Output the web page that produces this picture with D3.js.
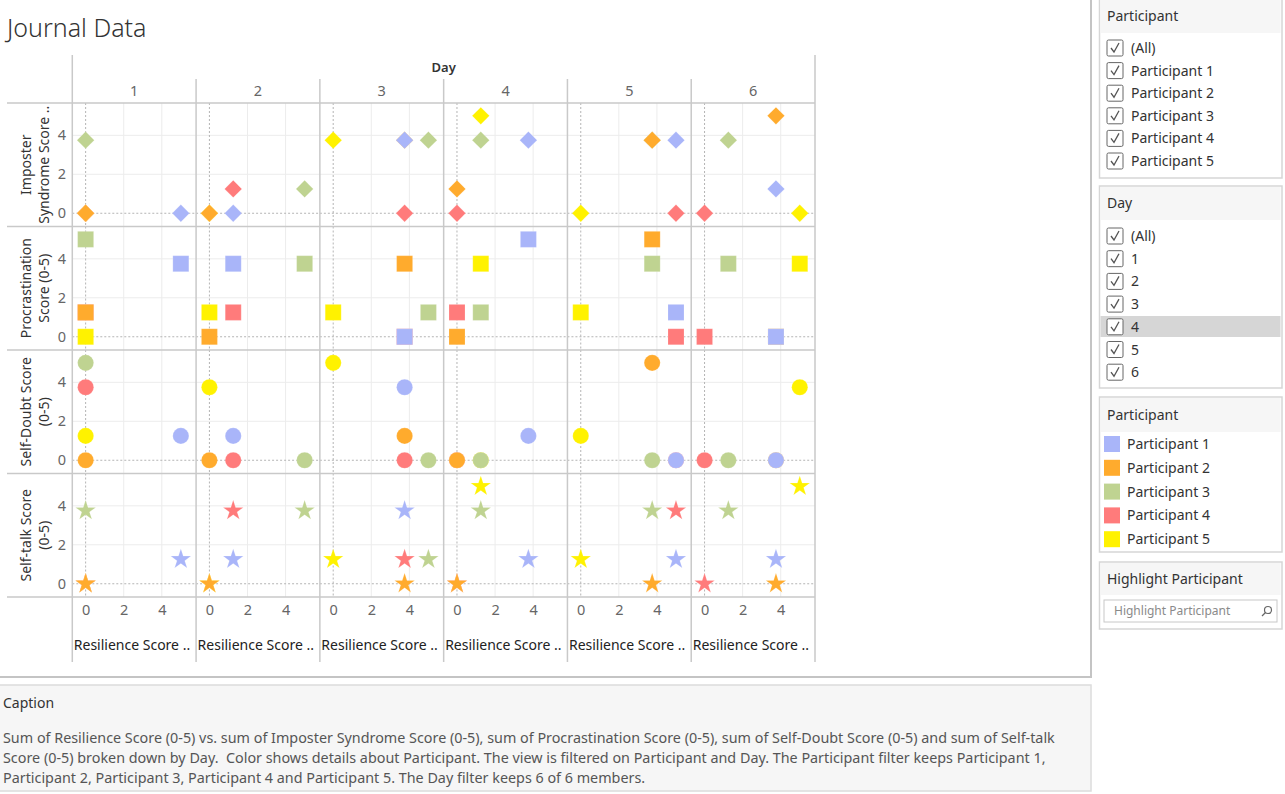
<!DOCTYPE html>
<html>
<head>
<meta charset="utf-8">
<script src="https://cdn.jsdelivr.net/npm/d3@7"></script>
<style>
  body { margin: 0; background: #fff; font-family: "Noto Sans", Lato, sans-serif; }
  svg text { font-family: "Noto Sans", Lato, sans-serif; }
</style>
</head>
<body>
<svg id="chart" width="1285" height="794"></svg>
<script>
// ---- data (values per participant, one per day) ----
const days = [1, 2, 3, 4, 5, 6];
const participants = ["Participant 1", "Participant 2", "Participant 3", "Participant 4", "Participant 5"];
const colors = ["#a9b5f9", "#ffab2d", "#bfd391", "#ff7b7b", "#fff200"];
const measures = ["Imposter Syndrome Score (0-5)", "Procrastination Score (0-5)", "Self-Doubt Score (0-5)", "Self-talk Score (0-5)"];
const rowTitles = [["Imposter", "Syndrome Score .."], ["Procrastination", "Score (0-5)"], ["Self-Doubt Score", "(0-5)"], ["Self-talk Score", "(0-5)"]];
const shapes = [d3.symbolSquare, d3.symbolSquare, d3.symbolCircle, d3.symbolStar];
const shapeSizes = [150, 256, 205, 128];
const shapeRotate = [45, 0, 0, 0];
const xTicks = [0, 2, 4];
const yTicks = [0, 2, 4];

const resilience = [
  [5, 1.25, 3.75, 3.75, 5, 3.75],
  [0, 0, 3.75, 0, 3.75, 3.75],
  [0, 5, 5, 1.25, 3.75, 1.25],
  [0, 1.25, 3.75, 0, 5, 0],
  [0, 0, 0, 1.25, 0, 5]
];
const imposter = [
  [0, 0, 3.75, 3.75, 3.75, 1.25],
  [0, 0, 3.75, 1.25, 3.75, 5],
  [3.75, 1.25, 3.75, 3.75, 3.75, 3.75],
  [0, 1.25, 0, 0, 0, 0],
  [0, 0, 3.75, 5, 0, 0]
];
const procrastination = [
  [3.75, 3.75, 0, 5, 1.25, 0],
  [1.25, 0, 3.75, 0, 5, 0],
  [5, 3.75, 1.25, 1.25, 3.75, 3.75],
  [1.25, 1.25, 0, 1.25, 0, 0],
  [0, 1.25, 1.25, 3.75, 1.25, 3.75]
];
const selfDoubt = [
  [1.25, 1.25, 3.75, 1.25, 0, 0],
  [0, 0, 1.25, 0, 5, 0],
  [5, 0, 0, 0, 0, 0],
  [3.75, 0, 0, 0, 0, 0],
  [1.25, 3.75, 5, 0, 1.25, 3.75]
];
const selfTalk = [
  [1.25, 1.25, 3.75, 1.25, 1.25, 1.25],
  [0, 0, 0, 0, 0, 0],
  [3.75, 3.75, 1.25, 3.75, 3.75, 3.75],
  [0, 3.75, 1.25, 0, 3.75, 0],
  [0, 0, 1.25, 5, 1.25, 5]
];
const measureValues = [imposter, procrastination, selfDoubt, selfTalk];

const dayFilter = ["(All)", "1", "2", "3", "4", "5", "6"];
const captionLines = [
  "Sum of Resilience Score (0-5) vs. sum of Imposter Syndrome Score (0-5), sum of Procrastination Score (0-5), sum of Self-Doubt Score (0-5) and sum of Self-talk",
  "Score (0-5) broken down by Day.  Color shows details about Participant. The view is filtered on Participant and Day. The Participant filter keeps Participant 1,",
  "Participant 2, Participant 3, Participant 4 and Participant 5. The Day filter keeps 6 of 6 members."
];

// ---- layout ----
const svg = d3.select('#chart');
const SEP = '#c9c9c9', GRID = '#ececec', ZERO = '#b4b4b4';
const TXT = '#333', TICK = '#666';
const FONT = '"Noto Sans", Lato, sans-serif';

const col = d3.scaleBand().domain(days).range([72.3, 815]);
const row = d3.scaleBand().domain(measures).range([103, 597]);
const x = d3.scaleLinear().domain([-0.7, 5.8]).range([0, col.bandwidth()]);
const y = d3.scaleLinear().domain([-0.68, 5.66]).range([row.bandwidth(), 0]);
const color = d3.scaleOrdinal().domain(participants).range(colors);

// main frame
svg.append('rect').attr('x', -2).attr('y', -2).attr('width', 1093).attr('height', 679)
  .attr('fill', '#fff').attr('stroke', '#c4c4c4').attr('stroke-width', 2);

svg.append('text').attr('x', 7).attr('y', 37).attr('font-size', 25).attr('font-weight', 300)
  .attr('fill', TXT).text('Journal Data');

// panels: grid lines
const plot = svg.append('g');
days.forEach(d => {
  measures.forEach(m => {
    const g = plot.append('g').attr('transform', `translate(${col(d)},${row(m)})`);
    xTicks.filter(t => t !== 0).forEach(t => g.append('line')
      .attr('x1', x(t)).attr('x2', x(t)).attr('y1', 0).attr('y2', row.bandwidth())
      .attr('stroke', GRID));
    yTicks.filter(t => t !== 0).forEach(t => g.append('line')
      .attr('x1', 0).attr('x2', col.bandwidth()).attr('y1', y(t)).attr('y2', y(t))
      .attr('stroke', GRID));
    g.append('line').attr('x1', x(0)).attr('x2', x(0)).attr('y1', 0).attr('y2', row.bandwidth())
      .attr('stroke', ZERO).attr('stroke-dasharray', '2,2');
    g.append('line').attr('x1', 0).attr('x2', col.bandwidth()).attr('y1', y(0)).attr('y2', y(0))
      .attr('stroke', ZERO).attr('stroke-dasharray', '2,2');
  });
});

// separators
const sep = svg.append('g').attr('stroke', SEP).attr('stroke-width', 1.5);
[103, ...measures.map(m => row(m) + row.bandwidth())].forEach(yy =>
  sep.append('line').attr('x1', 7).attr('x2', 815).attr('y1', yy).attr('y2', yy));
days.forEach((d, i) => {
  if (i === 0) return;
  sep.append('line').attr('x1', col(d)).attr('x2', col(d)).attr('y1', 79).attr('y2', 662);
});
sep.append('line').attr('x1', 72.3).attr('x2', 72.3).attr('y1', 55).attr('y2', 662);
sep.append('line').attr('x1', 815).attr('x2', 815).attr('y1', 55).attr('y2', 662);

// column header
svg.append('text').attr('x', (72.3 + 815) / 2).attr('y', 72).attr('text-anchor', 'middle')
  .attr('font-size', 13).attr('font-weight', 600).attr('fill', TXT).text('Day');
days.forEach(d => svg.append('text').attr('x', col(d) + col.bandwidth() / 2).attr('y', 96)
  .attr('text-anchor', 'middle').attr('font-size', 14.5).attr('fill', TICK).text(d));

// y axes + row titles
measures.forEach((m, i) => {
  const ax = svg.append('g').attr('transform', `translate(66,${row(m)})`)
    .call(d3.axisLeft(y).tickValues(yTicks).tickSize(0).tickPadding(0).tickFormat(d3.format('d')));
  ax.select('.domain').remove();
  ax.selectAll('text').attr('font-size', 14.5).attr('fill', TICK).attr('text-anchor', 'end')
    .style('font-family', FONT);
  const cy = row(m) + row.bandwidth() / 2;
  rowTitles[i].forEach((line, j) => svg.append('text')
    .attr('transform', `translate(${31 + j * 18},${cy}) rotate(-90)`)
    .attr('text-anchor', 'middle').attr('font-size', 14).attr('fill', TXT).text(line));
});

// x axes + titles
days.forEach(d => {
  const ax = svg.append('g').attr('transform', `translate(${col(d)},605)`)
    .call(d3.axisBottom(x).tickValues(xTicks).tickSize(0).tickPadding(0).tickFormat(d3.format('d')));
  ax.select('.domain').remove();
  ax.selectAll('text').attr('font-size', 14.5).attr('fill', TICK).attr('dy', '0.71em')
    .style('font-family', FONT);
  svg.append('text').attr('x', col(d) + 1.5).attr('y', 650).attr('font-size', 14)
    .attr('fill', '#222').text('Resilience Score ..');
});

// marks: participant 5 drawn first, participant 1 on top
const marks = [];
measures.forEach((m, mi) => {
  d3.range(participants.length).reverse().forEach(pi => {
    days.forEach((d, di) => marks.push({
      measure: m, mi, day: d, participant: participants[pi],
      xv: resilience[pi][di], yv: measureValues[mi][pi][di]
    }));
  });
});
svg.append('g').selectAll('path').data(marks).join('path')
  .attr('d', d => d3.symbol().type(shapes[d.mi]).size(shapeSizes[d.mi])())
  .attr('transform', d => `translate(${col(d.day) + x(d.xv)},${row(d.measure) + y(d.yv)}) rotate(${shapeRotate[d.mi]})`)
  .attr('fill', d => color(d.participant))
  .attr('stroke', '#fff').attr('stroke-opacity', 0.35).attr('stroke-width', 0.5);

// ---- caption ----
svg.append('rect').attr('x', -1).attr('y', 685).attr('width', 1092).attr('height', 106)
  .attr('fill', '#f6f6f6').attr('stroke', '#dcdcdc').attr('stroke-width', 1.5);
svg.append('text').attr('x', 3).attr('y', 708).attr('font-size', 14).attr('fill', TXT).text('Caption');
captionLines.forEach((l, i) => svg.append('text').attr('x', 3).attr('y', 743 + i * 20)
  .attr('font-size', 14.35).attr('fill', '#555').style('white-space', 'pre').text(l));

// ---- right side cards ----
function card(top, bottom, headBottom, title) {
  svg.append('rect').attr('x', 1099.5).attr('y', top).attr('width', 1282 - 1099.5).attr('height', bottom - top)
    .attr('fill', '#fff').attr('stroke', '#d6d6d6').attr('stroke-width', 1.5);
  svg.append('rect').attr('x', 1100.5).attr('y', top + 1).attr('width', 180).attr('height', headBottom - top - 1)
    .attr('fill', '#f6f6f6');
  svg.append('text').attr('x', 1107).attr('y', top + (headBottom - top) / 2 + 5)
    .attr('font-size', 14).attr('fill', TXT).text(title);
}
function checkbox(cx, cy, label) {
  svg.append('rect').attr('x', cx).attr('y', cy - 8).attr('width', 16).attr('height', 16).attr('rx', 1.5)
    .attr('fill', '#fff').attr('stroke', '#666').attr('stroke-width', 1);
  svg.append('path').attr('d', `M${cx + 4},${cy} L${cx + 7},${cy + 4} L${cx + 12},${cy - 5}`)
    .attr('fill', 'none').attr('stroke', '#555').attr('stroke-width', 1.3);
  svg.append('text').attr('x', cx + 24).attr('y', cy + 5).attr('font-size', 14).attr('fill', TXT).text(label);
}

card(-1, 178, 33, 'Participant');
['(All)', ...participants].forEach((p, i) => checkbox(1107, 48 + i * 22.6, p));

card(186, 388, 220, 'Day');
svg.append('rect').attr('x', 1100.5).attr('y', 316).attr('width', 180).attr('height', 21).attr('fill', '#d6d6d6');
dayFilter.forEach((d, i) => checkbox(1107, 236 + i * 22.7, d));

card(397, 552, 432, 'Participant');
participants.forEach((p, i) => {
  const cy = 444 + i * 23.8;
  svg.append('rect').attr('x', 1104).attr('y', cy - 8).attr('width', 16).attr('height', 16).attr('fill', color(p));
  svg.append('text').attr('x', 1127).attr('y', cy + 5).attr('font-size', 14).attr('fill', TXT).text(p);
});

card(562, 629, 595, 'Highlight Participant');
svg.append('rect').attr('x', 1104).attr('y', 600).attr('width', 173).attr('height', 22)
  .attr('fill', '#fff').attr('stroke', '#c8c8c8');
svg.append('text').attr('x', 1114).attr('y', 615).attr('font-size', 12).attr('fill', '#8a8a8a').text('Highlight Participant');
svg.append('circle').attr('cx', 1268).attr('cy', 610).attr('r', 3.5).attr('fill', 'none').attr('stroke', '#666').attr('stroke-width', 1.2);
svg.append('line').attr('x1', 1265.5).attr('y1', 612.5).attr('x2', 1262).attr('y2', 616).attr('stroke', '#666').attr('stroke-width', 1.2);
</script>
</body>
</html>
